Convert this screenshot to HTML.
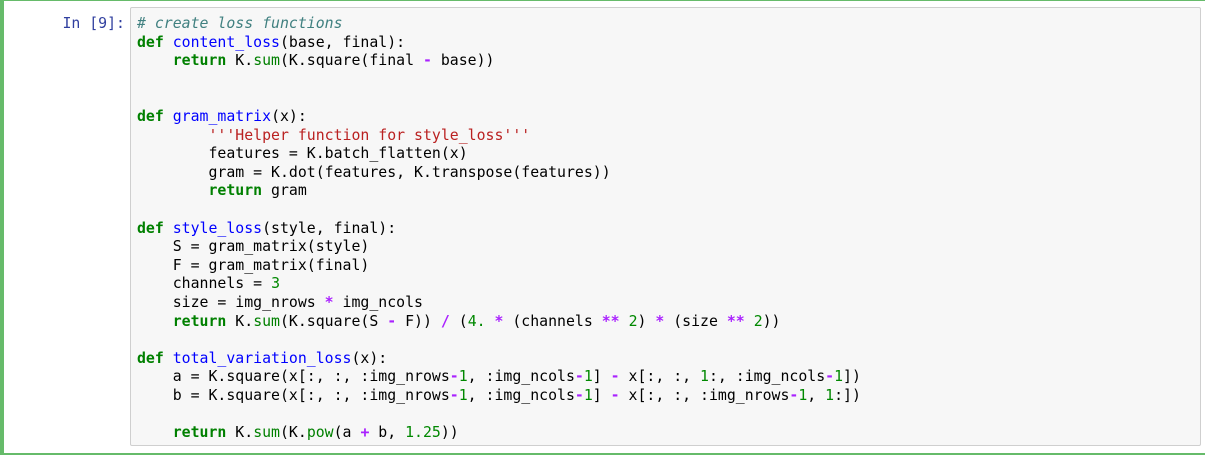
<!DOCTYPE html>
<html><head><style>
body{margin:0;width:1205px;height:455px;background:#fff;overflow:hidden;position:relative;font-family:"DejaVu Sans Mono","Liberation Mono",monospace;}
.cell{position:absolute;left:0;top:0;width:1215px;height:455px;border-top:1px solid #66bb6a;border-bottom:2px solid #66bb6a;border-left:4px solid #66bb6a;box-sizing:border-box;}
.prompt{position:absolute;left:40px;top:14px;width:85px;text-align:right;color:#303F9F;font-size:14.85px;line-height:18.6px;}
.box{position:absolute;left:130px;top:7px;width:1071px;height:439px;background:#f7f7f7;border:1px solid #cfcfcf;border-radius:2px;box-sizing:border-box;}
pre{position:absolute;left:137px;top:14px;margin:0;font-family:"DejaVu Sans Mono","Liberation Mono",monospace;font-size:14.85px;line-height:18.6px;color:#000;}
.k{color:#008000;font-weight:bold}.f{color:#0000ff}.c{color:#408080;font-style:italic}.s{color:#BA2121}.n{color:#008800}.o{color:#AA22FF;font-weight:bold}.b{color:#008000}
</style></head><body>
<div class="cell"></div>
<div class="prompt">In&nbsp;[9]:</div>
<div class="box"></div>
<pre><span class="c"># create loss functions</span>
<span class="k">def</span> <span class="f">content_loss</span>(base, final):
    <span class="k">return</span> K.<span class="b">sum</span>(K.square(final <span class="o">-</span> base))


<span class="k">def</span> <span class="f">gram_matrix</span>(x):
        <span class="s">'''Helper function for style_loss'''</span>
        features = K.batch_flatten(x)
        gram = K.dot(features, K.transpose(features))
        <span class="k">return</span> gram

<span class="k">def</span> <span class="f">style_loss</span>(style, final):
    S = gram_matrix(style)
    F = gram_matrix(final)
    channels = <span class="n">3</span>
    size = img_nrows <span class="o">*</span> img_ncols
    <span class="k">return</span> K.<span class="b">sum</span>(K.square(S <span class="o">-</span> F)) <span class="o">/</span> (<span class="n">4.</span> <span class="o">*</span> (channels <span class="o">**</span> <span class="n">2</span>) <span class="o">*</span> (size <span class="o">**</span> <span class="n">2</span>))

<span class="k">def</span> <span class="f">total_variation_loss</span>(x):
    a = K.square(x[:, :, :img_nrows<span class="o">-</span><span class="n">1</span>, :img_ncols<span class="o">-</span><span class="n">1</span>] <span class="o">-</span> x[:, :, <span class="n">1</span>:, :img_ncols<span class="o">-</span><span class="n">1</span>])
    b = K.square(x[:, :, :img_nrows<span class="o">-</span><span class="n">1</span>, :img_ncols<span class="o">-</span><span class="n">1</span>] <span class="o">-</span> x[:, :, :img_nrows<span class="o">-</span><span class="n">1</span>, <span class="n">1</span>:])

    <span class="k">return</span> K.<span class="b">sum</span>(K.<span class="b">pow</span>(a <span class="o">+</span> b, <span class="n">1.25</span>))</pre>
</body></html>
